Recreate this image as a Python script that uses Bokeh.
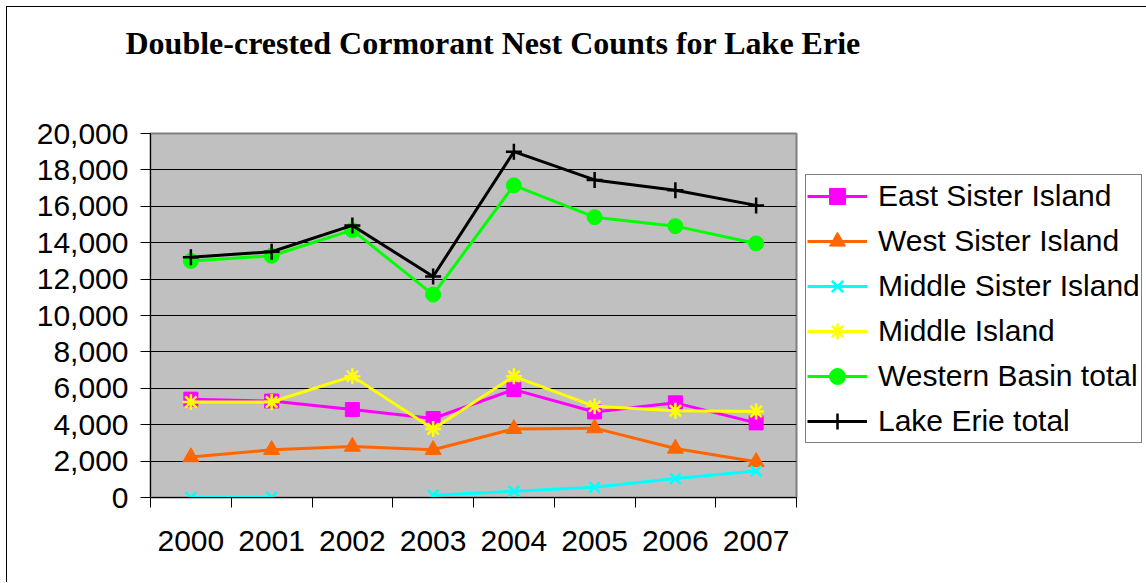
import math
from bokeh.plotting import figure
from bokeh.models import (Legend, LegendItem, FixedTicker, SingleIntervalTicker,
                          NumeralTickFormatter, Range1d, Title)
from bokeh.embed import file_html
from bokeh.resources import INLINE

years = ["2000", "2001", "2002", "2003", "2004", "2005", "2006", "2007"]
east_sister = [5400, 5300, 4830, 4340, 5930, 4700, 5200, 4100]
west_sister = [2220, 2620, 2800, 2620, 3770, 3810, 2690, 1960]
middle_sister = [0, 0, math.nan, 130, 340, 560, 1040, 1450]
middle_island = [5250, 5250, 6660, 3770, 6660, 5010, 4770, 4730]
western_basin = [13000, 13280, 14690, 11150, 17150, 15400, 14910, 13960]
lake_erie = [13200, 13500, 14950, 12140, 19000, 17450, 16880, 16050]

series = [
    ("East Sister Island", east_sister, "#FF00FF", "square", 14, 1),
    ("West Sister Island", west_sister, "#FF6600", "triangle", 16, 1),
    ("Middle Sister Island", middle_sister, "#00FFFF", "x", 15, 2.5),
    ("Middle Island", middle_island, "#FFFF00", "asterisk", 16, 2.5),
    ("Western Basin total", western_basin, "#00FF00", "circle", 15, 1),
    ("Lake Erie total", lake_erie, "#000000", "cross", 16, 2.5),
]

xs = [i + 0.5 for i in range(len(years))]

p = figure(frame_width=646, frame_height=364, output_backend="svg",
           toolbar_location=None,
           x_range=Range1d(0, len(years)), y_range=Range1d(0, 20000),
           min_border_left=143, min_border_right=0, min_border_top=126,
           min_border_bottom=85)
p.styles = {"border-left": "1px solid black", "border-top": "1px solid black",
            "margin-left": "6px", "margin-top": "6px"}

p.background_fill_color = "#C0C0C0"
p.border_fill_color = "white"
p.outline_line_color = "#808080"
p.outline_line_width = 2

p.xgrid.visible = False
p.ygrid.grid_line_color = "black"
p.ygrid.grid_line_width = 1
p.ygrid.grid_line_alpha = 1

p.yaxis.ticker = SingleIntervalTicker(interval=2000, num_minor_ticks=0)
p.yaxis.formatter = NumeralTickFormatter(format="0,0")
p.yaxis.major_tick_out = 10
p.yaxis.major_tick_in = 0
p.yaxis.minor_tick_line_color = None
p.yaxis.major_label_standoff = 12

p.xaxis.ticker = FixedTicker(ticks=xs, minor_ticks=list(range(len(years) + 1)))
p.xaxis.major_label_overrides = {x: y for x, y in zip(xs, years)}
p.xaxis.major_tick_out = 0
p.xaxis.major_tick_in = 0
p.xaxis.minor_tick_out = 10
p.xaxis.minor_tick_in = 0
p.xaxis.minor_tick_line_color = "black"
p.xaxis.major_label_standoff = 23

for ax in (p.xaxis, p.yaxis):
    ax.axis_line_color = "black"
    ax.axis_line_width = 1
    ax.major_tick_line_color = "black"
    ax.major_label_text_font = "Liberation Sans"
    ax.major_label_text_font_size = "30px"
    ax.major_label_text_color = "black"

# spacer closest to the frame, then the real title above it
spacer = Title(text=" ", text_font_size="1px", standoff=68)
p.add_layout(spacer, "above")
title = Title(text="Double-crested Cormorant Nest Counts for Lake Erie",
              text_font="Liberation Serif", text_font_size="32px",
              text_font_style="bold", text_color="black",
              align="left", offset=-25, standoff=0, vertical_align="top")
p.add_layout(title, "above")

items = []
for name, vals, color, marker, size, mlw in series:
    ln = p.line(xs, vals, line_color=color, line_width=3)
    if marker in ("x", "asterisk", "cross"):
        sc = p.scatter(xs, vals, marker=marker, size=size, line_color=color,
                       line_width=mlw)
    else:
        sc = p.scatter(xs, vals, marker=marker, size=size, fill_color=color,
                       line_color=color, line_width=mlw)
    items.append(LegendItem(label=name, renderers=[ln, sc]))

legend = Legend(items=items, location=(9, 54),
                label_text_font="Liberation Sans", label_text_font_size="30px",
                label_text_color="black", glyph_width=60, glyph_height=40,
                label_height=40, spacing=5, padding=1, margin=0,
                label_standoff=11, border_line_color="black",
                border_line_width=1, background_fill_color="white",
                background_fill_alpha=1)
p.add_layout(legend, "right")

open("out.html", "w").write(file_html(p, INLINE))
